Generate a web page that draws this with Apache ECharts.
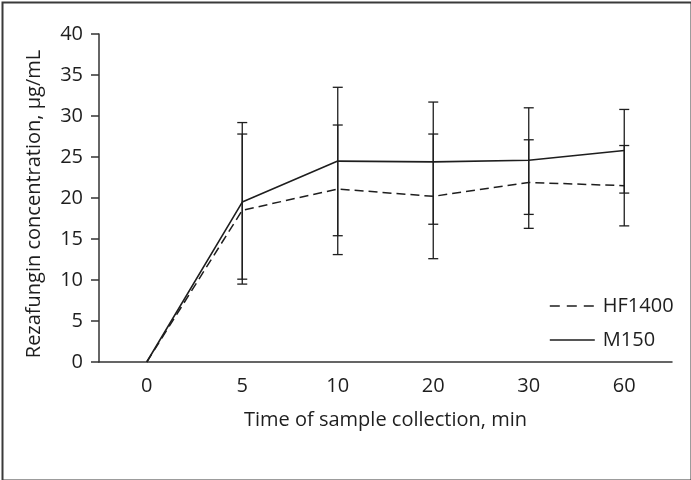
<!DOCTYPE html>
<html>
<head>
<meta charset="utf-8">
<script src="https://cdn.jsdelivr.net/npm/echarts@6/dist/echarts.min.js"></script>
<style>html,body{margin:0;padding:0;background:#fff}#c{width:691px;height:480px}</style>
</head>
<body>
<div id="c"></div>
<script>
const categories = ['0', '5', '10', '20', '30', '60'];
const hf1400 = [0, 18.5, 21.1, 20.2, 21.9, 21.5];
const hf1400Low = [null, 9.5, 13.1, 12.6, 16.3, 16.6];
const hf1400High = [null, 27.8, 28.9, 27.8, 27.1, 26.4];
const m150 = [0, 19.5, 24.5, 24.4, 24.6, 25.8];
const m150Low = [null, 10.1, 15.4, 16.8, 18.0, 20.6];
const m150High = [null, 29.2, 33.5, 31.7, 31.0, 30.8];
const yTicks = [0, 5, 10, 15, 20, 25, 30, 35, 40];

const FONT = 'Open Sans';
const INK = '#1e1e1e';
const FS = 20;

function errData(low, high) {
  const out = [];
  for (let i = 0; i < categories.length; i++) {
    if (low[i] != null) out.push([i, low[i], high[i]]);
  }
  return out;
}

function renderErr(params, api) {
  const x = api.value(0);
  const lo = api.coord([x, api.value(1)]);
  const hi = api.coord([x, api.value(2)]);
  const hw = 5;
  const style = { stroke: INK, lineWidth: 1.3, fill: null };
  return {
    type: 'group',
    children: [
      { type: 'line', shape: { x1: lo[0], y1: lo[1], x2: hi[0], y2: hi[1] }, style },
      { type: 'line', shape: { x1: lo[0] - hw, y1: lo[1], x2: lo[0] + hw, y2: lo[1] }, style },
      { type: 'line', shape: { x1: hi[0] - hw, y1: hi[1], x2: hi[0] + hw, y2: hi[1] }, style }
    ]
  };
}

const chart = echarts.init(document.getElementById('c'), null, { renderer: 'canvas' });
chart.setOption({
  animation: false,
  backgroundColor: '#fff',
  textStyle: { fontFamily: FONT, color: INK },
  graphic: [{
    type: 'rect', left: 0, top: 0,
    shape: { x: 1, y: 1, width: 689, height: 478 },
    style: { fill: null, stroke: '#3a3a3a', lineWidth: 2 }
  }],
  grid: { left: 99, right: 19, top: 34, bottom: 118 },
  legend: {
    left: 549, top: 296, orient: 'vertical', itemGap: 14, padding: 0,
    itemWidth: 45, itemHeight: 14,
    itemStyle: { opacity: 0 },
    textStyle: { fontFamily: FONT, fontSize: FS, color: INK, padding: [0, 0, 0, 3] },
    data: [
      { name: 'HF1400', lineStyle: { type: [10, 7], width: 1.6, color: INK } },
      { name: 'M150', lineStyle: { type: 'solid', width: 1.6, color: INK } }
    ]
  },
  xAxis: {
    type: 'category', data: categories, boundaryGap: true,
    name: 'Time of sample collection, min', nameLocation: 'middle', nameGap: 48,
    nameTextStyle: { fontFamily: FONT, fontSize: FS, color: INK },
    axisLine: { lineStyle: { color: '#333', width: 1.5 } },
    axisTick: { alignWithLabel: true, length: 8, lineStyle: { color: '#333', width: 1.5 } },
    axisLabel: { fontFamily: FONT, fontSize: FS, color: INK, margin: 14 },
    splitLine: { show: false }
  },
  yAxis: {
    type: 'value', min: 0, max: 40, interval: 5,
    name: 'Rezafungin concentration, µg/mL', nameLocation: 'middle', nameGap: 55,
    nameTextStyle: { fontFamily: FONT, fontSize: FS, color: INK, padding: [0, 12, 0, 0] },
    axisLine: { show: true, lineStyle: { color: '#333', width: 1.5 } },
    axisTick: { show: true, length: 8, lineStyle: { color: '#333', width: 1.5 } },
    axisLabel: { fontFamily: FONT, fontSize: FS, color: INK, margin: 16,
      formatter: v => yTicks.includes(v) ? String(v) : '' },
    splitLine: { show: false }
  },
  series: [
    {
      name: 'HF1400', type: 'line', data: hf1400, symbol: 'none',
      lineStyle: { color: INK, width: 1.5, type: [9, 5] }, itemStyle: { color: INK },
      z: 3
    },
    {
      name: 'M150', type: 'line', data: m150, symbol: 'none',
      lineStyle: { color: INK, width: 1.6, type: 'solid' }, itemStyle: { color: INK },
      z: 3
    },
    { type: 'custom', renderItem: renderErr, data: errData(hf1400Low, hf1400High), z: 2, silent: true },
    { type: 'custom', renderItem: renderErr, data: errData(m150Low, m150High), z: 2, silent: true }
  ]
});
</script>
</body>
</html>
